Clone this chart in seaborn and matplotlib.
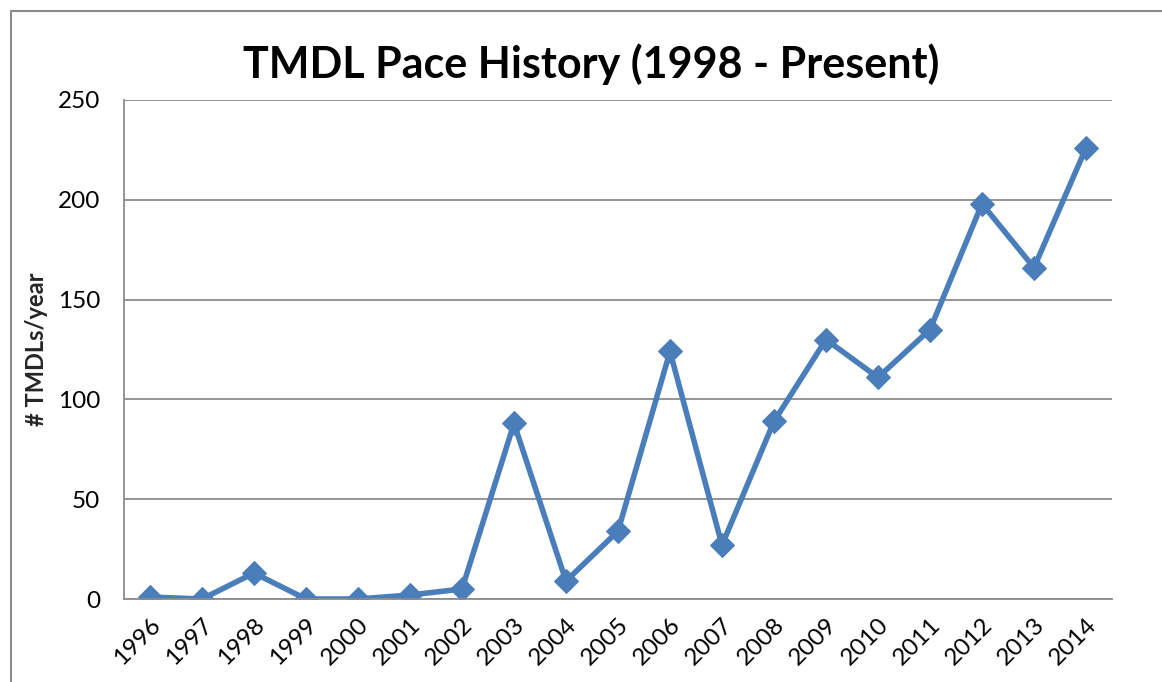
import pandas as pd
import matplotlib
matplotlib.use("Agg")
import matplotlib.pyplot as plt
import seaborn as sns
from matplotlib.lines import Line2D

# data
years = ["1996", "1997", "1998", "1999", "2000", "2001", "2002", "2003", "2004", "2005",
         "2006", "2007", "2008", "2009", "2010", "2011", "2012", "2013", "2014"]
tmdls = [1, 0, 13, 0, 0, 2, 5, 88, 9, 34, 124, 27, 89, 130, 111, 135, 198, 166, 226]
y_ticks = [0, 50, 100, 150, 200, 250]

title = "TMDL Pace History (1998 - Present)"
y_label = "# TMDLs/year"
line_color = "#4A7EBB"

sns.set_style("white")
plt.rcParams['font.family'] = ['Lato', 'DejaVu Sans']

df = pd.DataFrame({"year": years, "count": tmdls})

fig = plt.figure(figsize=(11.62, 6.82), dpi=100)
ax = fig.add_axes([124 / 1162, 1 - 599 / 682, (1112 - 124) / 1162, (599 - 100) / 682])

sns.lineplot(data=df, x="year", y="count", ax=ax, color=line_color, linewidth=4,
             marker="D", markersize=12, markeredgecolor=line_color, sort=False)

ax.set_xlim(-0.5, len(years) - 0.5)
ax.set_ylim(0, 250)
ax.set_yticks(y_ticks)
ax.yaxis.grid(True, color="#8c8c8c", linewidth=1.3)
ax.set_axisbelow(True)
for side in ["top", "right"]:
    ax.spines[side].set_visible(False)
for side in ["left", "bottom"]:
    ax.spines[side].set_color("#8c8c8c")
    ax.spines[side].set_linewidth(1.3)
ax.tick_params(axis="both", length=0, labelsize=17.5, labelcolor="black")
ax.tick_params(axis="y", pad=17)
ax.tick_params(axis="x", pad=11)
plt.setp(ax.get_xticklabels(), rotation=45, ha="right", rotation_mode="anchor")
ax.set_xlabel("")
ax.set_ylabel(y_label, fontsize=17, fontweight="bold", labelpad=7)

fig.text(591 / 1162, 1 - 64 / 682, title, ha="center", va="center", fontsize=31,
         fontweight="bold", color="black")

# outer chart border like the spreadsheet frame
fig.add_artist(Line2D([11 / 1162, 11 / 1162], [0, 1 - 11 / 682], transform=fig.transFigure,
                      color="#8c8c8c", linewidth=1.5))
fig.add_artist(Line2D([11 / 1162, 1], [1 - 11 / 682, 1 - 11 / 682], transform=fig.transFigure,
                      color="#8c8c8c", linewidth=1.5))

fig.savefig("out.png", dpi=100)
